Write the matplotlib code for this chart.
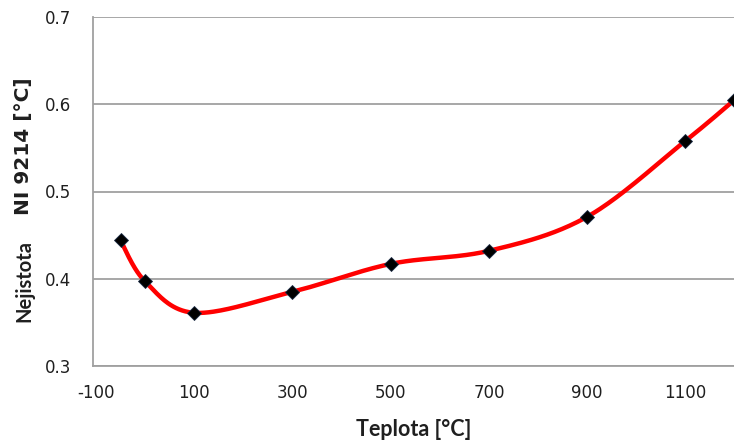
import numpy as np
import matplotlib
matplotlib.use("Agg")
import matplotlib.pyplot as plt

teplota = [-50, 0, 100, 300, 500, 700, 900, 1100, 1200]
nejistota = [0.444, 0.397, 0.361, 0.385, 0.417, 0.432, 0.471, 0.558, 0.605]
x_ticks = [-100, 100, 300, 500, 700, 900, 1100]
x_tick_labels = ["-100", "100", "300", "500", "700", "900", "1100"]
y_ticks = [0.3, 0.4, 0.5, 0.6, 0.7]


def smooth(xs, ys, n=40):
    # Catmull-Rom style smoothing (like spreadsheet "smoothed line")
    xs = np.asarray(xs, float)
    ys = np.asarray(ys, float)
    P = np.column_stack([xs, ys])
    P = np.vstack([P[0], P, P[-1]])
    out = []
    for i in range(1, len(P) - 2):
        p0, p1, p2, p3 = P[i - 1], P[i], P[i + 1], P[i + 2]
        c1 = p1 + (p2 - p0) / 6.0
        c2 = p2 - (p3 - p1) / 6.0
        t = np.linspace(0, 1, n)[:, None]
        seg = ((1 - t) ** 3) * p1 + 3 * ((1 - t) ** 2) * t * c1 + 3 * (1 - t) * t ** 2 * c2 + t ** 3 * p2
        out.append(seg)
    out = np.vstack(out)
    return out[:, 0], out[:, 1]


W, H = 734, 443
fig = plt.figure(figsize=(W / 100, H / 100), dpi=100)
ax = fig.add_axes([93 / W, 1 - 366 / H, 1 - 93 / W, (366 - 17) / H])

sx, sy = smooth(teplota, nejistota)
ax.plot(sx, sy, color="#ff0000", lw=3.2, solid_capstyle="round", zorder=3, clip_on=False)
ax.plot(teplota, nejistota, linestyle="none", marker="D", markersize=7.5,
        color="black", markeredgecolor="#1a2a44", markeredgewidth=0.6, zorder=4, clip_on=False)

ax.set_xlim(-106, 1199)
ax.set_ylim(0.3, 0.7)
ax.set_xticks(x_ticks)
ax.set_xticklabels(x_tick_labels)
ax.set_yticks(y_ticks)
ax.set_yticklabels([f"{v:.1f}" for v in y_ticks])
ax.grid(axis="y", color="#a0a0a0", lw=1.3)
ax.set_axisbelow(True)
for s in ["top", "right"]:
    ax.spines[s].set_visible(False)
for s in ["left", "bottom"]:
    ax.spines[s].set_color("#a0a0a0")
    ax.spines[s].set_linewidth(1.3)
ax.tick_params(length=0, labelsize=12, labelcolor="#1f1f1f")
ax.tick_params(axis="y", pad=16)
ax.tick_params(axis="x", pad=13)

fig.text(414 / W, 1 - 429 / H, "Teplota [°C]", fontsize=15.5, fontweight="bold",
         family="Lato", color="#1f1f1f", ha="center", va="center")
fig.text(24 / W, 1 - 281 / H, "Nejistota", fontsize=14.5, fontweight="bold",
         family="Lato", color="#1f1f1f", ha="center", va="center", rotation=90)
fig.text(24 / W, 1 - 146 / H, "NI 9214 [°C]", fontsize=14.5, fontweight="bold",
         family="DejaVu Sans", color="#1f1f1f", ha="center", va="center", rotation=90)

fig.savefig("out.png", dpi=100)
